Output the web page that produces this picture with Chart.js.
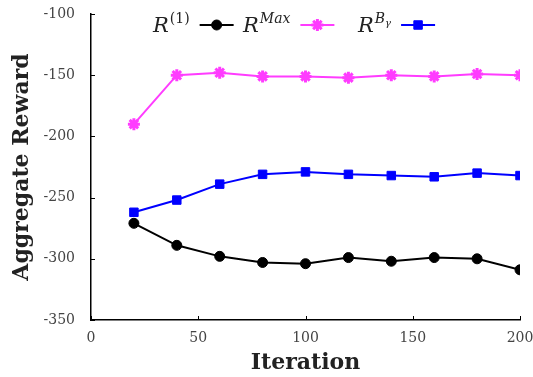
<!DOCTYPE html>
<html>
<head>
<meta charset="utf-8">
<script src="https://cdn.jsdelivr.net/npm/chart.js@4"></script>
<style>
  html, body { margin: 0; padding: 0; background: #fff; }
  #wrap { width: 533px; height: 377px; }
</style>
</head>
<body>
<div id="wrap"><canvas id="myChart" width="533" height="377"></canvas></div>
<script>
// data
const iterations = [20, 40, 60, 80, 100, 120, 140, 160, 180, 200];
const r1 = [-271, -289, -298, -303, -304, -299, -302, -299, -300, -309];
const rMax = [-190, -150, -148, -151, -151, -152, -150, -151, -149, -150];
const rBg = [-262, -252, -239, -231, -229, -231, -232, -233, -230, -232];
const xTicks = [0, 50, 100, 150, 200];
const yTicks = [-350, -300, -250, -200, -150, -100];

const serif = '"DejaVu Serif", "Liberation Serif", serif';

function pts(ys) {
    return iterations.map(function (x, i) { return { x: x, y: ys[i] }; });
}

// inward ticks like the matlab/pgf style
const innerTicks = {
    id: 'innerTicks',
    afterDraw: function (chart) {
        const c = chart.ctx, a = chart.chartArea;
        const xs = chart.scales.x, ys = chart.scales.y;
        c.save();
        c.strokeStyle = '#000';
        c.lineWidth = 1;
        c.beginPath();
        xTicks.forEach(function (v) {
            const px = Math.round(xs.getPixelForValue(v)) + 0.5;
            c.moveTo(px, a.bottom);
            c.lineTo(px, a.bottom - 4);
        });
        yTicks.forEach(function (v) {
            const py = Math.round(ys.getPixelForValue(v)) + 0.5;
            c.moveTo(a.left, py);
            c.lineTo(a.left + 4, py);
        });
        c.stroke();
        c.restore();
    }
};

// legend: label text first, then a line sample with the marker
const textLegend = {
    id: 'textLegend',
    afterDraw: function (chart) {
        const c = chart.ctx;
        const items = [
            { sup: '(1)', sub: null, x: 153, ds: 0 },
            { sup: 'Max', sub: null, x: 243, ds: 1 },
            { sup: 'B', sub: 'γ', x: 358, ds: 2 }
        ];
        const base = 32, ly = 25;
        c.save();
        c.fillStyle = '#222';
        c.textBaseline = 'alphabetic';
        items.forEach(function (it) {
            c.font = 'italic 21px ' + serif;
            c.fillText('R', it.x, base);
            let x = it.x + c.measureText('R').width + 1;
            if (it.sup === '(1)') {
                c.font = '14px ' + serif;
            } else {
                c.font = 'italic 14px ' + serif;
            }
            c.fillText(it.sup, x, base - 9);
            x += c.measureText(it.sup).width;
            if (it.sub) {
                c.font = 'italic 10px ' + serif;
                c.fillText(it.sub, x, base - 6);
                x += c.measureText(it.sub).width;
            }
            const ds = chart.data.datasets[it.ds];
            const x0 = x + 10, x1 = x0 + 34;
            c.strokeStyle = ds.borderColor;
            c.lineWidth = ds.borderWidth;
            c.beginPath();
            c.moveTo(x0, ly);
            c.lineTo(x1, ly);
            c.stroke();
            c.fillStyle = ds.backgroundColor;
            c.strokeStyle = ds.borderColor;
            c.lineWidth = ds.pointBorderWidth || 1;
            Chart.helpers.drawPoint(c, {
                pointStyle: ds.pointStyle,
                radius: ds.pointRadius,
                rotation: 0,
                borderWidth: ds.pointBorderWidth || 1
            }, (x0 + x1) / 2, ly);
            c.fillStyle = '#222';
        });
        c.restore();
    }
};

new Chart(document.getElementById('myChart'), {
    type: 'line',
    data: {
        datasets: [{
            label: 'R1',
            data: pts(r1),
            borderColor: '#000',
            backgroundColor: '#000',
            borderWidth: 2,
            pointStyle: 'circle',
            pointRadius: 5,
            pointBorderWidth: 1
        }, {
            label: 'RMax',
            data: pts(rMax),
            borderColor: '#ff3cff',
            backgroundColor: '#ff3cff',
            borderWidth: 2,
            pointStyle: 'star',
            pointRadius: 6,
            pointBorderWidth: 3
        }, {
            label: 'RBg',
            data: pts(rBg),
            borderColor: '#0000ff',
            backgroundColor: '#0000ff',
            borderWidth: 2,
            pointStyle: 'rect',
            pointRadius: 6,
            pointBorderWidth: 1
        }]
    },
    options: {
        responsive: false,
        animation: false,
        layout: { padding: { top: 14, right: 13, bottom: 0, left: 0 } },
        plugins: {
            legend: { display: false },
            tooltip: { enabled: false }
        },
        scales: {
            x: {
                type: 'linear',
                min: 0, max: 200,
                afterBuildTicks: function (s) { s.ticks = xTicks.map(function (v) { return { value: v }; }); },
                afterFit: function (s) { s.height = 57; s.paddingRight = 0; s.paddingLeft = 0; },
                grid: { display: false },
                border: { display: true, color: '#000', width: 1.5 },
                ticks: { color: '#444', padding: 2, font: { family: serif, size: 14 } },
                title: {
                    display: true, text: 'Iteration', color: '#222', padding: { top: 0, bottom: 1 },
                    font: { family: serif, size: 22, weight: 'bold' }
                }
            },
            y: {
                min: -350, max: -100,
                afterBuildTicks: function (s) { s.ticks = yTicks.map(function (v) { return { value: v }; }); },
                afterFit: function (s) { s.width = 91; s.paddingTop = 0; s.paddingBottom = 0; },
                grid: { display: false },
                border: { display: true, color: '#000', width: 1.5 },
                ticks: { color: '#444', padding: 8, font: { family: serif, size: 14 } },
                title: {
                    display: true, text: 'Aggregate Reward', color: '#222', padding: { top: 9, bottom: 0 },
                    font: { family: serif, size: 22, weight: 'bold' }
                }
            }
        }
    },
    plugins: [innerTicks, textLegend]
});
</script>
</body>
</html>
